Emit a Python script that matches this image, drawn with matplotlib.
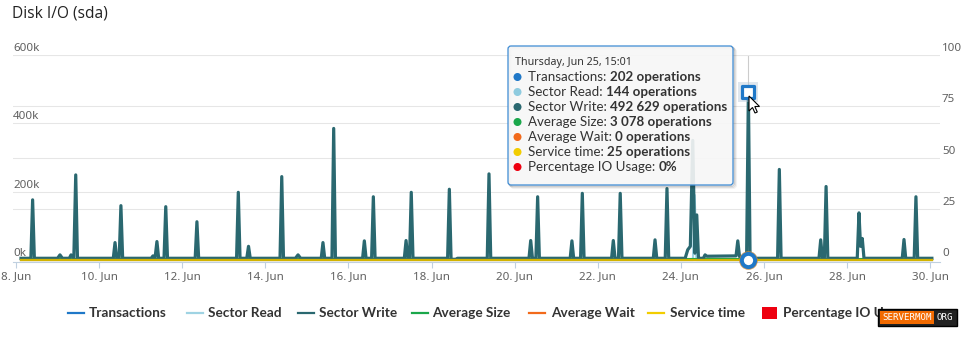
import matplotlib
matplotlib.use("Agg")
import matplotlib.pyplot as plt
import matplotlib.transforms as mtrans
from matplotlib.patches import FancyBboxPatch, Rectangle, Polygon
from matplotlib.lines import Line2D
import pandas as pd
import numpy as np

# ---------------- data ----------------
start = pd.Timestamp("2015-06-08 00:00")

# Sector Write: hours after 8 Jun 00:00, value in thousands of operations
sw_hours = [2.9,
            8.6, 9.6, 10.6,
            24.0, 25.4, 26.8,
            30.8, 31.8, 33.4, 34.5, 35.5,
            56.2, 57.2, 58.2, 59.6, 60.6, 61.6,
            78.1, 79.1, 80.3, 81.4, 82.4, 85.5, 86.5, 87.5,
            103.5, 104.5, 105.5,
            127.4, 128.4, 129.4,
            133.3, 134.3, 135.3,
            152.5, 153.5, 154.5,
            161.4, 162.9, 164.4,
            176.3, 177.3, 178.3, 182.5, 183.5, 184.5,
            200.2, 201.2, 202.2, 205.4, 206.4, 207.4,
            224.3, 225.3, 226.3, 227.3, 228.3, 229.3,
            249.3, 250.3, 251.3, 254.0, 255.0,
            272.2, 273.2, 274.2,
            296.3, 297.3, 298.3, 300.3, 301.3, 302.3,
            320.1, 321.1, 322.1, 326.1, 327.1, 328.1,
            344.0, 345.0, 346.0, 348.0, 349.0, 350.0,
            368.1, 369.1, 370.1, 375.0, 376.0, 377.0,
            386.5, 388.0, 389.5, 390.9, 392.1, 393.2, 394.2,
            397.0, 398.0, 399.0,
            415.9, 416.9, 417.9, 422.0, 423.02, 424.0,
            439.9, 440.9, 441.9,
            463.8, 464.8, 465.8, 466.9, 467.9, 468.9,
            485.9, 486.9, 487.8, 488.8, 489.8,
            511.9, 512.9, 513.9, 518.8, 519.8, 520.8,
            529.0]
sw_kops = [5,
           5, 176, 5,
           5, 15, 5,
           5, 15, 5, 249, 5,
           5, 51, 5, 5, 159, 5,
           5, 12, 5, 54, 5, 5, 156, 5,
           5, 112, 5,
           5, 198, 5,
           5, 40, 5,
           5, 244, 5,
           5, 15, 5,
           5, 51, 5, 5, 385, 5,
           5, 56, 5, 5, 185, 5,
           5, 57, 5, 5, 198, 5,
           5, 207, 2, 2, 5,
           5, 252, 5,
           5, 57, 5, 5, 185, 5,
           5, 56, 5, 5, 195, 5,
           5, 57, 5, 5, 195, 5,
           5, 59, 5, 5, 209, 5,
           5, 30, 40, 350, 20, 132, 5,
           5, 15, 11,
           12, 56, 10, 8, 492.629, 5,
           5, 265, 5,
           5, 59, 5, 5, 215, 5,
           5, 138, 40, 63, 5,
           5, 60, 5, 5, 185, 5,
           5]

# Sector Read (light blue) - one visible spike on 24 Jun
sr_hours = [2.9, 391.0, 392.0, 393.0, 423.02, 529.0]
sr_kops = [0.144, 0.144, 190, 0.144, 0.144, 0.144]

# Near-zero series (operations), read from the tooltip
small_hours = [2.9, 423.02, 529.0]
transactions = [202, 202, 202]
average_size = [3078, 3078, 3078]
average_wait = [0, 0, 0]
service_time = [25, 25, 25]
pct_io_usage = [0, 0, 0]

hover_time = "2015-06-25 15:01"
hover_value = 492629

tick_dates = ["2015-06-08", "2015-06-10", "2015-06-12", "2015-06-14", "2015-06-16",
              "2015-06-18", "2015-06-20", "2015-06-22", "2015-06-24", "2015-06-26",
              "2015-06-28", "2015-06-30"]
tick_labels = ["8. Jun", "10. Jun", "12. Jun", "14. Jun", "16. Jun", "18. Jun",
               "20. Jun", "22. Jun", "24. Jun", "26. Jun", "28. Jun", "30. Jun"]
left_ticks = [0, 200000, 400000, 600000]
left_labels = ["0k", "200k", "400k", "600k"]
right_ticks = [0, 25, 50, 75, 100]
right_labels = ["0", "25", "50", "75", "100"]

series_names = ["Transactions", "Sector Read", "Sector Write", "Average Size",
                "Average Wait", "Service time", "Percentage IO Usage"]
series_colors = ["#1f78c8", "#9fd3e3", "#2a6870", "#1aa74b", "#f26a1b", "#f2cd00", "#ee0010"]
tooltip_header = "Thursday, Jun 25, 15:01"
tooltip_values = ["202 operations", "144 operations", "492 629 operations",
                  "3 078 operations", "0 operations", "25 operations", "0%"]

# ---------------- figure ----------------
W, H = 970, 339
fig = plt.figure(figsize=(W / 100, H / 100), dpi=100)
fig.patch.set_facecolor("white")
FONT = "Noto Sans"
BFONT = "Lato"

def fx(px):
    return px / W

def fy(py):
    return 1 - py / H

# pixel transform (origin top-left)
PIX = mtrans.Affine2D().scale(1 / W, -1 / H).translate(0, 1) + fig.transFigure

L, R, T, B = 13, 940, 55, 260
ax2 = fig.add_axes([fx(L), fy(B), (R - L) / W, (B - T) / H])
ax = fig.add_axes([fx(L), fy(B), (R - L) / W, (B - T) / H])
ax.patch.set_visible(False)
ax2.patch.set_visible(False)

def to_time(hours):
    return start + pd.to_timedelta(hours, unit="h")

xmin = start - pd.Timedelta(hours=1.73)
xmax = start + pd.Timedelta(hours=533.7)

# right axis (percentage) - background gridlines
ax2.set_ylim(0, 100)
ax2.set_xlim(xmin, xmax)
ax2.set_yticks(right_ticks)
ax2.yaxis.grid(True, color="#e6e6e6", lw=0.75)
ax2.tick_params(axis="y", length=0, labelleft=False, labelright=False)
ax2.set_xticks([])
for s in ax2.spines.values():
    s.set_visible(False)
ax2.fill_between(to_time(small_hours), pct_io_usage, color=series_colors[6], lw=0)

# left axis
ax.set_ylim(0, 600000)
ax.set_xlim(xmin, xmax)
ax.set_yticks(left_ticks)
ax.yaxis.grid(True, color="#e6e6e6", lw=0.75)
ax.tick_params(axis="y", length=0, labelleft=False)
for k in ["top", "right", "left"]:
    ax.spines[k].set_visible(False)
ax.spines["bottom"].set_color("#c0d0e0")
ax.spines["bottom"].set_linewidth(0.8)
ax.spines["bottom"].set_position(("outward", 1.5))
ax.set_xticks(pd.to_datetime(tick_dates))
ax.set_xticklabels(tick_labels)
ax.tick_params(axis="x", length=4.3, width=0.8, color="#c0d0e0", pad=2.5,
               labelsize=8.3, labelcolor="#606060")
for t in ax.get_xticklabels():
    t.set_fontfamily(FONT)

# y labels placed above gridlines
ltr = mtrans.offset_copy(ax.get_yaxis_transform(), fig=fig, x=0, y=1.0, units="dots")
for v, lab in zip(left_ticks, left_labels):
    ax.text(0, v, lab, transform=ltr, ha="left", va="bottom", fontsize=8.3,
            color="#606060", family=FONT, clip_on=False)
rtr = mtrans.offset_copy(ax2.get_yaxis_transform(), fig=fig, x=2, y=1.0, units="dots")
for v, lab in zip(right_ticks, right_labels):
    ax2.text(1, v, lab, transform=rtr, ha="left", va="bottom", fontsize=8.3,
             color="#606060", family=FONT, clip_on=False)

# crosshair
ax.axvline(pd.Timestamp(hover_time), color="#cccccc", lw=0.8, zorder=1)

# series
ax.plot(to_time(small_hours), transactions, color=series_colors[0], lw=1.5, zorder=2,
        clip_on=False)
ax.plot(to_time(sr_hours), np.array(sr_kops) * 1000, color=series_colors[1], lw=1.6,
        zorder=2, clip_on=False)
ax.plot(to_time(small_hours), average_size, color=series_colors[3], lw=1.5, zorder=2,
        clip_on=False)
ax.plot(to_time(sw_hours), np.array(sw_kops) * 1000, color=series_colors[2], lw=2.3,
        zorder=3, solid_joinstyle="round", clip_on=False)
ax.plot(to_time(small_hours), average_wait, color=series_colors[4], lw=1.5, zorder=4,
        clip_on=False)
ax.plot(to_time(small_hours), service_time, color="#d2b300", lw=1.6, zorder=5,
        clip_on=False)

# hover markers
ht = pd.Timestamp(hover_time)
ax.scatter([ht], [hover_value], marker="s", s=200, color="#b8c8d8", alpha=0.45, zorder=6, lw=0)
ax.scatter([ht], [hover_value], marker="s", s=75, facecolor="white",
           edgecolor=series_colors[0], lw=2.3, zorder=7)
ax.scatter([ht], [transactions[1]], marker="o", s=180, color="#c88a40", alpha=0.85,
           zorder=6, lw=0, clip_on=False)
ax.scatter([ht], [transactions[1]], marker="o", s=90, facecolor="white",
           edgecolor=series_colors[0], lw=2.8, zorder=7, clip_on=False)

# ---------------- title ----------------
fig.text(fx(12), fy(14), "Disk I/O (sda)", fontsize=11.2, color="#222222",
         family="Open Sans", ha="left", va="center")

# ---------------- tooltip ----------------
bx0, by0, bx1, by1 = 508, 46, 733, 185
for off, a in [(3, 0.05), (2, 0.08), (1, 0.12)]:
    fig.patches.append(FancyBboxPatch((bx0 + off, by0 + off), bx1 - bx0, by1 - by0,
                                      boxstyle="round,pad=0,rounding_size=3",
                                      transform=PIX, facecolor="none",
                                      edgecolor=(0, 0, 0, a), lw=1.5, zorder=20))
fig.patches.append(FancyBboxPatch((bx0, by0), bx1 - bx0, by1 - by0,
                                  boxstyle="round,pad=0,rounding_size=3",
                                  transform=PIX, facecolor=(0.97, 0.97, 0.97, 0.9),
                                  edgecolor="#3d8bd4", lw=0.9, zorder=21))
fig.text(515, 63, tooltip_header, transform=PIX, fontsize=7.7, color="#333333",
         family=FONT, ha="left", va="center", zorder=22)
renderer = fig.canvas.get_renderer()
for i, (nm, val) in enumerate(zip(series_names, tooltip_values)):
    yy = 77 + i * 15.0
    fig.patches.append(plt.Circle((517.5, yy), 3.3, transform=PIX,
                                  color=series_colors[i] if i != 1 else "#8ecbdf",
                                  zorder=22))
    t1 = fig.text(528, yy, nm + ": ", transform=PIX, fontsize=9.6, color="#333333",
                  family=BFONT, ha="left", va="center", zorder=22)
    bb = t1.get_window_extent(renderer)
    fig.text(bb.x1 / W, fy(yy), val, transform=fig.transFigure, fontsize=9.6,
             color="#333333", family=BFONT, weight="bold", ha="left", va="center", zorder=22)

# cursor
cx, cy = 749, 96
cur = [(0, 0), (0, 15), (3.5, 11.5), (6, 17), (8.3, 16), (5.8, 10.5), (10.5, 10.5)]
fig.patches.append(Polygon([(cx + a, cy + b) for a, b in cur], closed=True, transform=PIX,
                           facecolor="white", edgecolor="black", lw=0.8, zorder=30))

# ---------------- legend ----------------
leg_y = 313
line_x = [68, 187, 298, 412, 529, 648]
text_x = [89, 208, 319, 432, 551, 670, 783]
for i in range(6):
    fig.lines.append(Line2D([line_x[i], line_x[i] + 16], [leg_y, leg_y], transform=PIX,
                            color=series_colors[i], lw=1.6))
fig.patches.append(Rectangle((762, leg_y - 6), 15, 12, transform=PIX,
                             facecolor=series_colors[6], edgecolor="none"))
for i in range(7):
    fig.text(text_x[i], leg_y, series_names[i], transform=PIX, fontsize=9.8,
             color="#333333", family=BFONT, weight="bold", ha="left", va="center")

# ---------------- watermark ----------------
fig.patches.append(Rectangle((878, 309), 79, 17, transform=PIX, facecolor="#222222",
                             edgecolor="black", lw=1, zorder=40))
fig.patches.append(Rectangle((880, 311), 54, 13, transform=PIX, facecolor="#f26a00",
                             edgecolor="none", zorder=41))
fig.text(907, 318, "SERVERMOM", transform=PIX, fontsize=6.6, color="white",
         family="DejaVu Sans Mono", ha="center", va="center", zorder=42)
fig.text(945, 318, "ORG", transform=PIX, fontsize=6.6, color="white",
         family="DejaVu Sans Mono", ha="center", va="center", zorder=42)

fig.savefig("out.png", dpi=100, facecolor="white")
